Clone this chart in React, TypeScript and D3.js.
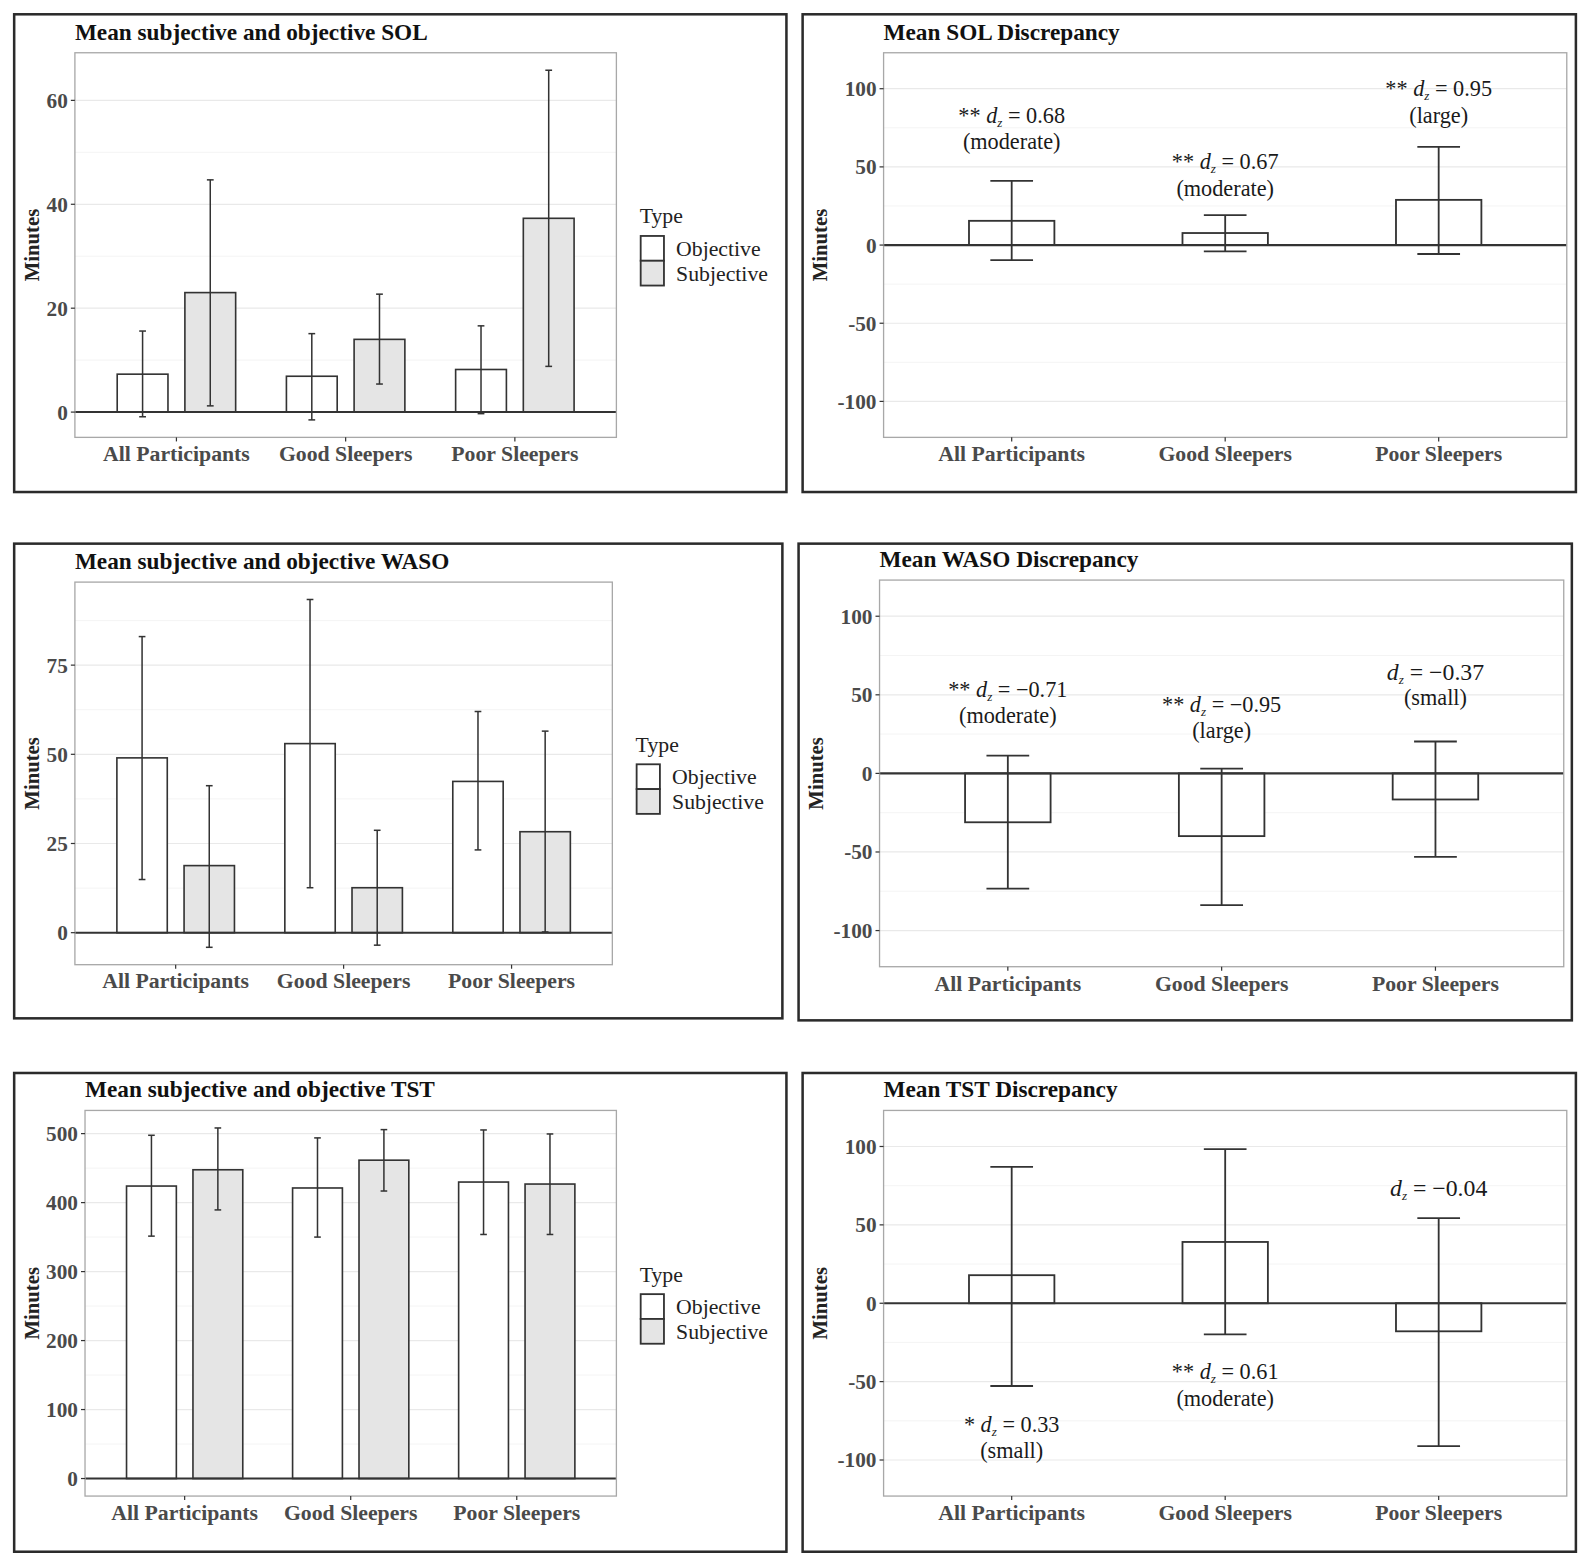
import React from 'react'
import * as d3 from 'd3'

const groups = ['All Participants', 'Good Sleepers', 'Poor Sleepers']
const types = ['Objective', 'Subjective']

// mean / lower / upper of the error bars (minutes)
const solObjMean = [7.3, 6.9, 8.2]
const solObjLow = [-0.9, -1.5, -0.3]
const solObjHigh = [15.6, 15.1, 16.6]
const solSubjMean = [23.0, 14.0, 37.3]
const solSubjLow = [1.2, 5.4, 8.8]
const solSubjHigh = [44.7, 22.7, 65.8]

const wasoObjMean = [49.0, 53.0, 42.4]
const wasoObjLow = [14.9, 12.6, 23.2]
const wasoObjHigh = [83.0, 93.4, 62.0]
const wasoSubjMean = [18.8, 12.6, 28.3]
const wasoSubjLow = [-4.1, -3.5, 0.2]
const wasoSubjHigh = [41.2, 28.7, 56.5]

const tstObjMean = [424.0, 421.2, 429.8]
const tstObjLow = [351.4, 350.0, 353.8]
const tstObjHigh = [497.6, 493.8, 505.3]
const tstSubjMean = [447.6, 461.5, 426.9]
const tstSubjLow = [389.4, 416.8, 353.8]
const tstSubjHigh = [508.2, 505.8, 499.5]

const solDiffMean = [15.5, 7.7, 28.9]
const solDiffLow = [-9.6, -4.0, -5.7]
const solDiffHigh = [41.1, 19.1, 62.8]
const wasoDiffMean = [-31.1, -39.9, -16.6]
const wasoDiffLow = [-73.3, -83.8, -53.1]
const wasoDiffHigh = [11.3, 3.0, 20.3]
const tstDiffMean = [17.9, 39.1, -17.9]
const tstDiffLow = [-52.8, -19.8, -91.1]
const tstDiffHigh = [87.0, 98.3, 54.3]

// effect size labels: significance stars, d_z, size word, label height (minutes)
const solSig = ['**', '**', '**']
const solDz = ['0.68', '0.67', '0.95']
const solSize = ['moderate', 'moderate', 'large']
const solLabelY = [74.7, 45.1, 91.7]
const wasoSig = ['**', '**', '']
const wasoDz = ['\u22120.71', '\u22120.95', '\u22120.37']
const wasoSize = ['moderate', 'large', 'small']
const wasoLabelY = [45.3, 35.9, 56.6]
const tstSig = ['*', '**', '']
const tstDz = ['0.33', '0.61', '\u22120.04']
const tstSize = ['small', 'moderate', '']
const tstLabelY = [-85.3, -51.9, 73.8]

const solTicks = [0, 20, 40, 60]
const wasoTicks = [0, 25, 50, 75]
const tstTicks = [0, 100, 200, 300, 400, 500]
const diffTicks = [-100, -50, 0, 50, 100]
const diffLimits = [-123, 123]

const FONT = '"Liberation Serif", "Times New Roman", serif'
const INK = '#333333'
const FILLS = ['#ffffff', '#e5e5e5']

type Rect = [number, number, number, number]
type Series = { mean: number[]; low: number[]; high: number[] }

function minorTicks(ticks: number[], domain: number[]): number[] {
  const step = ticks[1] - ticks[0]
  const mids = d3.pairs(ticks).map(([a, b]) => (a + b) / 2)
  return [ticks[0] - step / 2, ...mids, ticks[ticks.length - 1] + step / 2].filter(
    (v) => v >= domain[0] && v <= domain[1]
  )
}

function Frame({ frame, plot, title }: { frame: Rect; plot: Rect; title: string }) {
  return (
    <g>
      <rect
        x={frame[0]}
        y={frame[1]}
        width={frame[2] - frame[0]}
        height={frame[3] - frame[1]}
        fill="white"
        stroke="#2b2b2b"
        strokeWidth={2.5}
      />
      <text x={plot[0]} y={plot[1] - 13} fontSize={23} fontWeight="bold" fill="#111">
        {title}
      </text>
      <text
        transform={`translate(${frame[0] + 17},${(plot[1] + plot[3]) / 2}) rotate(-90)`}
        textAnchor="middle"
        dy="0.35em"
        fontSize={20.5}
        fontWeight="bold"
        fill="#222"
      >
        Minutes
      </text>
    </g>
  )
}

function Axes({
  plot,
  x,
  y,
  ticks,
}: {
  plot: Rect
  x: d3.ScalePoint<string>
  y: d3.ScaleLinear<number, number>
  ticks: number[]
}) {
  return (
    <g>
      {ticks.map((t) => (
        <g key={t}>
          <line x1={plot[0] - 4} x2={plot[0]} y1={y(t)} y2={y(t)} stroke={INK} strokeWidth={1.2} />
          <text
            x={plot[0] - 7}
            y={y(t)}
            dy="0.35em"
            textAnchor="end"
            fontSize={21}
            fontWeight="bold"
            fill="#4a4a4a"
          >
            {t}
          </text>
        </g>
      ))}
      {groups.map((g) => (
        <g key={g}>
          <line x1={x(g)} x2={x(g)} y1={plot[3]} y2={plot[3] + 4} stroke={INK} strokeWidth={1.2} />
          <text
            x={x(g)}
            y={plot[3] + 16}
            dy="0.35em"
            textAnchor="middle"
            fontSize={21.5}
            fontWeight="bold"
            fill="#4a4a4a"
          >
            {g}
          </text>
        </g>
      ))}
    </g>
  )
}

function Grid({
  plot,
  y,
  ticks,
}: {
  plot: Rect
  y: d3.ScaleLinear<number, number>
  ticks: number[]
}) {
  const minor = minorTicks(ticks, y.domain())
  return (
    <g>
      {minor.map((t) => (
        <line key={'m' + t} x1={plot[0]} x2={plot[2]} y1={y(t)} y2={y(t)} stroke="#f3f3f3" strokeWidth={0.9} />
      ))}
      {ticks.map((t) => (
        <line key={t} x1={plot[0]} x2={plot[2]} y1={y(t)} y2={y(t)} stroke="#e9e9e9" strokeWidth={1.2} />
      ))}
    </g>
  )
}

function ErrorBar({ cx, lo, hi, w, sw }: { cx: number; lo: number; hi: number; w: number; sw: number }) {
  return (
    <g stroke={INK} strokeWidth={sw}>
      <line x1={cx} x2={cx} y1={lo} y2={hi} />
      <line x1={cx - w / 2} x2={cx + w / 2} y1={lo} y2={lo} />
      <line x1={cx - w / 2} x2={cx + w / 2} y1={hi} y2={hi} />
    </g>
  )
}

function ComparePanel({
  frame,
  plot,
  title,
  ticks,
  obj,
  subj,
}: {
  frame: Rect
  plot: Rect
  title: string
  ticks: number[]
  obj: Series
  subj: Series
}) {
  const series = [obj, subj]
  const x = d3.scalePoint<string>().domain(groups).range([plot[0], plot[2]]).padding(0.6)
  const step = x.step()
  const lo = Math.min(0, d3.min(series.flatMap((s) => s.low))!)
  const hi = d3.max(series.flatMap((s) => s.high))!
  const pad = (hi - lo) * 0.05
  const y = d3.scaleLinear().domain([lo - pad, hi + pad]).range([plot[3], plot[1]])
  const barW = step * 0.3
  const offsets = [-step * 0.2, step * 0.2]
  const legX = plot[2] + 24
  const legC = (plot[1] + plot[3]) / 2

  return (
    <g>
      <Frame frame={frame} plot={plot} title={title} />
      <Grid plot={plot} y={y} ticks={ticks} />
      {series.map((s, si) =>
        groups.map((g, gi) => {
          const cx = x(g)! + offsets[si]
          return (
            <g key={g + si}>
              <rect
                x={cx - barW / 2}
                y={y(Math.max(0, s.mean[gi]))}
                width={barW}
                height={Math.abs(y(s.mean[gi]) - y(0))}
                fill={FILLS[si]}
                stroke={INK}
                strokeWidth={1.6}
              />
              <ErrorBar cx={cx} lo={y(s.low[gi])} hi={y(s.high[gi])} w={step * 0.04} sw={1.5} />
            </g>
          )
        })
      )}
      <line x1={plot[0]} x2={plot[2]} y1={y(0)} y2={y(0)} stroke={INK} strokeWidth={2} />
      <rect
        x={plot[0]}
        y={plot[1]}
        width={plot[2] - plot[0]}
        height={plot[3] - plot[1]}
        fill="none"
        stroke="#a8a8a8"
        strokeWidth={1.3}
      />
      <Axes plot={plot} x={x} y={y} ticks={ticks} />
      <text x={legX - 1} y={legC - 29} dy="0.35em" fontSize={21.5} fill="#222">
        Type
      </text>
      {types.map((t, i) => (
        <g key={t}>
          <rect
            x={legX}
            y={legC - 9 + i * 24.5}
            width={23}
            height={24.5}
            fill={FILLS[i]}
            stroke={INK}
            strokeWidth={1.8}
          />
          <text x={legX + 35} y={legC + 3 + i * 25} dy="0.35em" fontSize={21.5} fill="#222">
            {t}
          </text>
        </g>
      ))}
    </g>
  )
}

function DzLabel({ x, y, sig, dz, size }: { x: number; y: number; sig: string; dz: string; size: string }) {
  const lh = 26
  const y1 = size ? y - lh / 2 : y
  // labels without stars are set a little larger in the original
  const fs = sig ? 22 : 23.5
  return (
    <g fill="#1a1a1a" textAnchor="middle">
      <text x={x} y={y1} dy="0.35em" fontSize={fs}>
        {sig ? <tspan>{sig + ' '}</tspan> : null}
        <tspan fontStyle="italic">d</tspan>
        <tspan fontStyle="italic" fontSize={13} dy={4}>
          z
        </tspan>
        <tspan dy={-4}>{' = ' + dz}</tspan>
      </text>
      {size ? (
        <text x={x} y={y1 + lh} dy="0.35em" fontSize={22}>
          {'(' + size + ')'}
        </text>
      ) : null}
    </g>
  )
}

function DiffPanel({
  frame,
  plot,
  title,
  data,
  sig,
  dz,
  size,
  labelY,
}: {
  frame: Rect
  plot: Rect
  title: string
  data: Series
  sig: string[]
  dz: string[]
  size: string[]
  labelY: number[]
}) {
  const x = d3.scalePoint<string>().domain(groups).range([plot[0], plot[2]]).padding(0.6)
  const step = x.step()
  const y = d3.scaleLinear().domain(diffLimits).range([plot[3], plot[1]])
  const barW = step * 0.4
  return (
    <g>
      <Frame frame={frame} plot={plot} title={title} />
      <Grid plot={plot} y={y} ticks={diffTicks} />
      {groups.map((g, gi) => {
        const cx = x(g)!
        return (
          <g key={g}>
            <rect
              x={cx - barW / 2}
              y={y(Math.max(0, data.mean[gi]))}
              width={barW}
              height={Math.abs(y(data.mean[gi]) - y(0))}
              fill="white"
              stroke={INK}
              strokeWidth={1.8}
            />
            <ErrorBar cx={cx} lo={y(data.low[gi])} hi={y(data.high[gi])} w={step * 0.2} sw={1.8} />
          </g>
        )
      })}
      <line x1={plot[0]} x2={plot[2]} y1={y(0)} y2={y(0)} stroke={INK} strokeWidth={2.2} />
      <rect
        x={plot[0]}
        y={plot[1]}
        width={plot[2] - plot[0]}
        height={plot[3] - plot[1]}
        fill="none"
        stroke="#a8a8a8"
        strokeWidth={1.3}
      />
      <Axes plot={plot} x={x} y={y} ticks={diffTicks} />
      {groups.map((g, gi) => (
        <DzLabel key={g} x={x(g)!} y={y(labelY[gi])} sig={sig[gi]} dz={dz[gi]} size={size[gi]} />
      ))}
    </g>
  )
}

export default function App(): React.ReactElement {
  return (
    <svg
      width={1585}
      height={1564}
      viewBox="0 0 1566 1545"
      fontFamily={FONT}
      style={{ position: 'absolute', left: 0, top: 0, background: 'white', display: 'block' }}
    >
      <rect x={0} y={0} width={1566} height={1545} fill="white" />
      <ComparePanel
        frame={[14, 14, 777, 486]}
        plot={[74, 52, 609, 432]}
        title="Mean subjective and objective SOL"
        ticks={solTicks}
        obj={{ mean: solObjMean, low: solObjLow, high: solObjHigh }}
        subj={{ mean: solSubjMean, low: solSubjLow, high: solSubjHigh }}
      />
      <DiffPanel
        frame={[793, 14, 1557, 486]}
        plot={[873, 52, 1548, 432]}
        title="Mean SOL Discrepancy"
        data={{ mean: solDiffMean, low: solDiffLow, high: solDiffHigh }}
        sig={solSig}
        dz={solDz}
        size={solSize}
        labelY={solLabelY}
      />
      <ComparePanel
        frame={[14, 537, 773, 1006]}
        plot={[74, 575, 605, 953]}
        title="Mean subjective and objective WASO"
        ticks={wasoTicks}
        obj={{ mean: wasoObjMean, low: wasoObjLow, high: wasoObjHigh }}
        subj={{ mean: wasoSubjMean, low: wasoSubjLow, high: wasoSubjHigh }}
      />
      <DiffPanel
        frame={[789, 537, 1553, 1008]}
        plot={[869, 573, 1545, 955]}
        title="Mean WASO Discrepancy"
        data={{ mean: wasoDiffMean, low: wasoDiffLow, high: wasoDiffHigh }}
        sig={wasoSig}
        dz={wasoDz}
        size={wasoSize}
        labelY={wasoLabelY}
      />
      <ComparePanel
        frame={[14, 1060, 777, 1533]}
        plot={[84, 1097, 609, 1478]}
        title="Mean subjective and objective TST"
        ticks={tstTicks}
        obj={{ mean: tstObjMean, low: tstObjLow, high: tstObjHigh }}
        subj={{ mean: tstSubjMean, low: tstSubjLow, high: tstSubjHigh }}
      />
      <DiffPanel
        frame={[793, 1060, 1557, 1533]}
        plot={[873, 1097, 1548, 1478]}
        title="Mean TST Discrepancy"
        data={{ mean: tstDiffMean, low: tstDiffLow, high: tstDiffHigh }}
        sig={tstSig}
        dz={tstDz}
        size={tstSize}
        labelY={tstLabelY}
      />
    </svg>
  )
}
